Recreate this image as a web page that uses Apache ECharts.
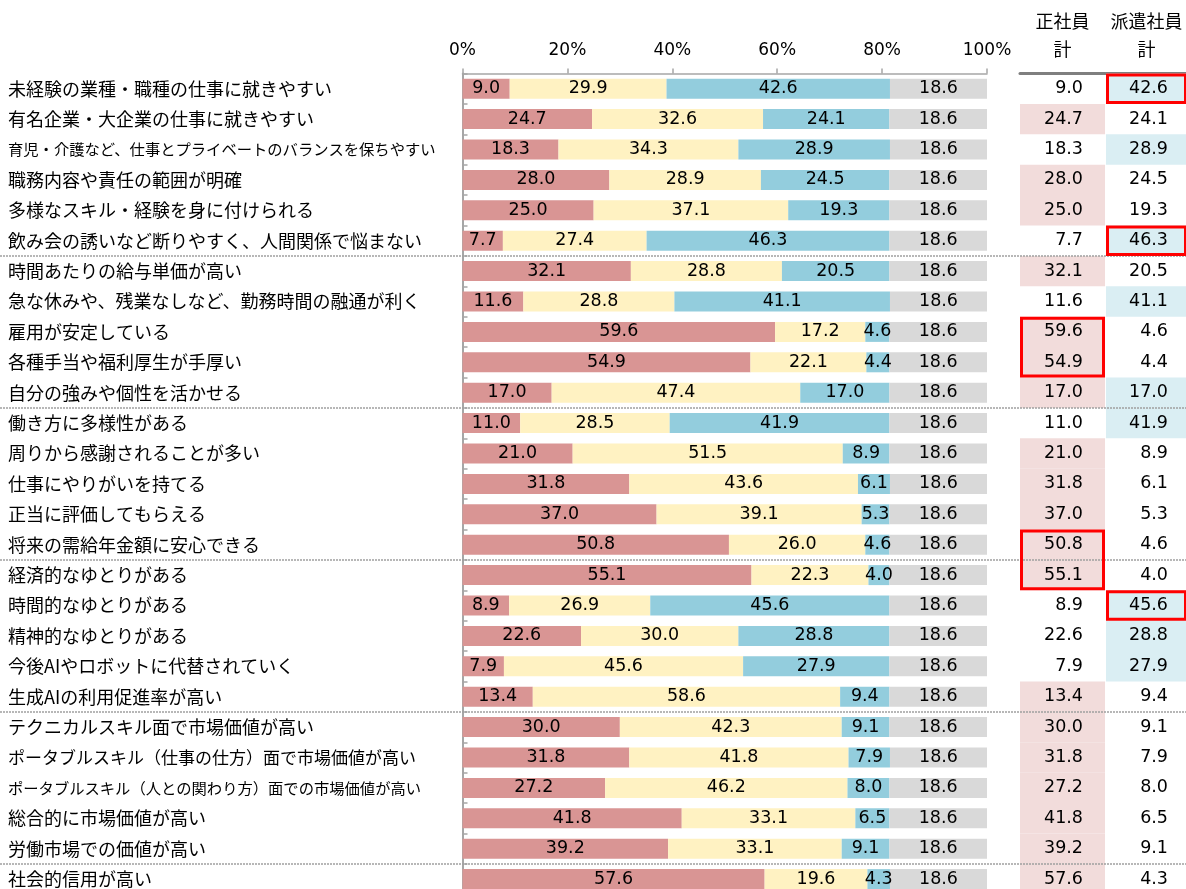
<!DOCTYPE html>
<html lang="ja">
<head>
    <meta charset="UTF-8">
    <title>正社員・派遣社員のイメージ</title>
    <script src="https://cdn.jsdelivr.net/npm/echarts@6/dist/echarts.min.js"></script>
    <style>
        html,
        body {
            margin: 0;
            padding: 0;
            background: #fff;
        }

        #main {
            width: 1186px;
            height: 889px;
        }
    </style>
</head>

<body>
    <div id="main"></div>

    <script>
        // 項目
        var categories = [
            '未経験の業種・職種の仕事に就きやすい',
            '有名企業・大企業の仕事に就きやすい',
            '育児・介護など、仕事とプライベートのバランスを保ちやすい',
            '職務内容や責任の範囲が明確',
            '多様なスキル・経験を身に付けられる',
            '飲み会の誘いなど断りやすく、人間関係で悩まない',
            '時間あたりの給与単価が高い',
            '急な休みや、残業なしなど、勤務時間の融通が利く',
            '雇用が安定している',
            '各種手当や福利厚生が手厚い',
            '自分の強みや個性を活かせる',
            '働き方に多様性がある',
            '周りから感謝されることが多い',
            '仕事にやりがいを持てる',
            '正当に評価してもらえる',
            '将来の需給年金額に安心できる',
            '経済的なゆとりがある',
            '時間的なゆとりがある',
            '精神的なゆとりがある',
            '今後AIやロボットに代替されていく',
            '生成AIの利用促進率が高い',
            'テクニカルスキル面で市場価値が高い',
            'ポータブルスキル（仕事の仕方）面で市場価値が高い',
            'ポータブルスキル（人との関わり方）面での市場価値が高い',
            '総合的に市場価値が高い',
            '労働市場での価値が高い',
            '社会的信用が高い'
        ];

        // 帯グラフの値（%）
        var redVals = [9.0, 24.7, 18.3, 28.0, 25.0, 7.7, 32.1, 11.6, 59.6, 54.9, 17.0, 11.0, 21.0, 31.8, 37.0, 50.8, 55.1, 8.9, 22.6, 7.9, 13.4, 30.0, 31.8, 27.2, 41.8, 39.2, 57.6];
        var yellowVals = [29.9, 32.6, 34.3, 28.9, 37.1, 27.4, 28.8, 28.8, 17.2, 22.1, 47.4, 28.5, 51.5, 43.6, 39.1, 26.0, 22.3, 26.9, 30.0, 45.6, 58.6, 42.3, 41.8, 46.2, 33.1, 33.1, 19.6];
        var blueVals = [42.6, 24.1, 28.9, 24.5, 19.3, 46.3, 20.5, 41.1, 4.6, 4.4, 17.0, 41.9, 8.9, 6.1, 5.3, 4.6, 4.0, 45.6, 28.8, 27.9, 9.4, 9.1, 7.9, 8.0, 6.5, 9.1, 4.3];
        var grayVals = [18.6, 18.6, 18.6, 18.6, 18.6, 18.6, 18.6, 18.6, 18.6, 18.6, 18.6, 18.6, 18.6, 18.6, 18.6, 18.6, 18.6, 18.6, 18.6, 18.6, 18.6, 18.6, 18.6, 18.6, 18.6, 18.6, 18.6];

        // 右の表
        var seishainTotal = redVals;
        var hakenTotal = blueVals;

        // 区切り線（この行の前）と赤枠 [開始行, 終了行]
        var groupBreaks = [6, 11, 16, 21, 26];
        var seishainBoxes = [[8, 9], [15, 16]];
        var hakenBoxes = [[0, 0], [5, 5], [17, 17]];

        var jpFont = '"Noto Sans CJK JP", sans-serif';
        var numFont = '"DejaVu Sans", sans-serif';
        var gridTop = 73.5;
        var gridHeight = 30.4 * categories.length;

        var myChart = echarts.init(document.getElementById('main'));

        function barSeries(name, vals, color) {
            return {
                name: name,
                type: 'bar',
                stack: 'total',
                xAxisIndex: 0,
                yAxisIndex: 0,
                barWidth: 20,
                data: vals,
                itemStyle: { color: color },
                label: {
                    show: true,
                    position: 'inside',
                    color: '#000',
                    fontSize: 17.5,
                    fontFamily: numFont,
                    formatter: function (p) {
                        return p.value.toFixed(1);
                    }
                },
                emphasis: { disabled: true }
            };
        }

        function cellSeries(idx, vals, other, hiColor, dist) {
            return {
                type: 'bar',
                xAxisIndex: idx,
                yAxisIndex: idx,
                barWidth: '100%',
                data: vals.map(function (v, i) {
                    return {
                        value: 1,
                        itemStyle: { color: v >= other[i] ? hiColor : 'rgba(0,0,0,0)' }
                    };
                }),
                label: {
                    show: true,
                    position: 'insideRight',
                    distance: dist,
                    color: '#000',
                    fontSize: 17.5,
                    fontFamily: numFont,
                    formatter: function (p) {
                        return vals[p.dataIndex].toFixed(1);
                    }
                },
                emphasis: { disabled: true }
            };
        }

        function boxSeries(idx, boxes) {
            return {
                type: 'custom',
                xAxisIndex: idx,
                yAxisIndex: idx,
                z: 10,
                silent: true,
                data: boxes.map(function (b) {
                    return [0, b[0], b[1]];
                }),
                renderItem: function (params, api) {
                    var band = api.size([0, 1])[1];
                    var y0 = api.coord([0, api.value(1)])[1] - band / 2;
                    var y1 = api.coord([0, api.value(2)])[1] + band / 2;
                    var cs = params.coordSys;
                    return {
                        type: 'rect',
                        shape: { x: cs.x + 1.5, y: y0 + 1.5, width: cs.width - 3, height: y1 - y0 - 3 },
                        style: { fill: 'none', stroke: '#ff0000', lineWidth: 3 }
                    };
                }
            };
        }

        function tableXAxis(idx, name) {
            return {
                type: 'value',
                gridIndex: idx,
                position: 'top',
                min: 0,
                max: 1,
                axisLine: { show: true, lineStyle: { color: '#7f7f7f', width: 3 } },
                axisTick: { show: false },
                axisLabel: { show: false },
                splitLine: { show: false },
                name: name,
                nameLocation: 'middle',
                nameGap: 10,
                nameTextStyle: { fontSize: 18, fontFamily: jpFont, color: '#000', lineHeight: 28 }
            };
        }

        var option = {
            backgroundColor: '#fff',
            animation: false,
            grid: [
                { left: 462.5, top: gridTop, width: 524.5, height: gridHeight, outerBoundsMode: 'none' },
                { left: 1020, top: gridTop, width: 85, height: gridHeight, outerBoundsMode: 'none' },
                { left: 1106, top: gridTop, width: 81, height: gridHeight, outerBoundsMode: 'none' }
            ],
            xAxis: [
                {
                    type: 'value',
                    gridIndex: 0,
                    position: 'top',
                    min: 0,
                    max: 100,
                    interval: 20,
                    axisLine: { show: true, lineStyle: { color: '#a6a6a6', width: 1.5 } },
                    axisTick: { show: true, length: 5, lineStyle: { color: '#a6a6a6', width: 1.5 } },
                    axisLabel: { formatter: '{value}%', fontSize: 17, fontFamily: numFont, color: '#000', margin: 14 },
                    splitLine: { show: false }
                },
                tableXAxis(1, '正社員\n計'),
                tableXAxis(2, '派遣社員\n計')
            ],
            yAxis: [
                {
                    type: 'category',
                    gridIndex: 0,
                    inverse: true,
                    data: categories,
                    axisLine: { show: true, lineStyle: { color: '#a6a6a6', width: 2 } },
                    axisTick: { show: true, inside: true, length: 5, lineStyle: { color: '#a6a6a6', width: 1.5 } },
                    axisLabel: {
                        interval: 0,
                        align: 'left',
                        margin: 454.5,
                        fontSize: 18,
                        fontFamily: jpFont,
                        color: '#000',
                        formatter: function (v) {
                            if (v.length > 25) {
                                return '{s|' + v + '}';
                            }
                            return v.length > 23 ? '{m|' + v + '}' : v;
                        },
                        rich: {
                            s: { fontSize: 15.3, fontFamily: jpFont, color: '#000' },
                            m: { fontSize: 17, fontFamily: jpFont, color: '#000' }
                        }
                    },
                    splitLine: { show: false }
                },
                { type: 'category', gridIndex: 1, inverse: true, data: categories, show: false },
                { type: 'category', gridIndex: 2, inverse: true, data: categories, show: false }
            ],
            series: [
                barSeries('a', redVals, '#d99594'),
                barSeries('b', yellowVals, '#fff2c2'),
                barSeries('c', blueVals, '#93cddd'),
                barSeries('d', grayVals, '#d9d9d9'),
                {
                    // グループ区切りの点線
                    type: 'custom',
                    xAxisIndex: 0,
                    yAxisIndex: 0,
                    z: 8,
                    silent: true,
                    data: groupBreaks.map(function (b) {
                        return [0, b];
                    }),
                    renderItem: function (params, api) {
                        var y = api.coord([0, api.value(1)])[1] - api.size([0, 1])[1] / 2;
                        return {
                            type: 'line',
                            shape: { x1: 0, y1: y, x2: api.getWidth(), y2: y },
                            style: { stroke: '#a0a0a0', lineWidth: 1.5, lineDash: [2, 1] }
                        };
                    }
                },
                cellSeries(1, seishainTotal, hakenTotal, '#f2dcdb', 22),
                cellSeries(2, hakenTotal, seishainTotal, '#daeef3', 19),
                boxSeries(1, seishainBoxes),
                boxSeries(2, hakenBoxes)
            ]
        };

        myChart.setOption(option);
    </script>
</body>

</html>
